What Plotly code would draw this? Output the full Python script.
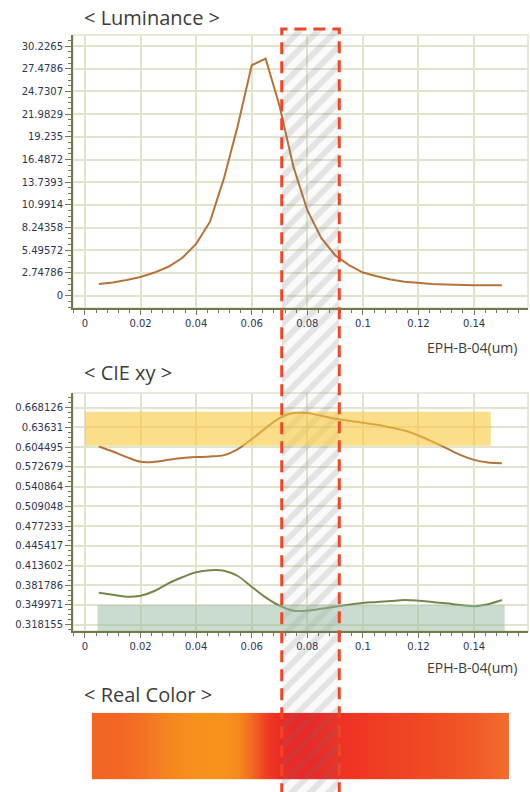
import plotly.graph_objects as go

# ---------------- data ----------------
thickness = [0.005, 0.010, 0.015, 0.020, 0.025, 0.030, 0.035, 0.040, 0.045, 0.050,
             0.055, 0.060, 0.065, 0.070, 0.075, 0.080, 0.085, 0.090, 0.095, 0.100,
             0.105, 0.110, 0.115, 0.120, 0.125, 0.130, 0.135, 0.140, 0.145, 0.150]

luminance = [1.42, 1.60, 1.90, 2.27, 2.80, 3.50, 4.56, 6.27, 8.96, 14.2,
             20.6, 27.9, 28.7, 23.0, 15.6, 10.35, 7.0, 4.9, 3.7, 2.8,
             2.35, 1.95, 1.70, 1.52, 1.42, 1.36, 1.27, 1.25, 1.25, 1.25]

cie_x = [0.6055, 0.5974, 0.5884, 0.5808, 0.5808, 0.5840, 0.5868, 0.5884, 0.5893, 0.5916,
         0.6013, 0.6174, 0.6352, 0.6513, 0.6594, 0.6594, 0.6550, 0.6502, 0.6470, 0.6437,
         0.6405, 0.6360, 0.6313, 0.6232, 0.6135, 0.6029, 0.5920, 0.5840, 0.5797, 0.5787]

cie_y = [0.3698, 0.3665, 0.3633, 0.3649, 0.3725, 0.3849, 0.3946, 0.4027, 0.4059, 0.4052,
         0.3967, 0.3794, 0.3623, 0.3488, 0.3407, 0.3407, 0.3439, 0.3472, 0.3504, 0.3531,
         0.3547, 0.3563, 0.3579, 0.3568, 0.3547, 0.3526, 0.3499, 0.3478, 0.3511, 0.3579]

real_colors = ["#f26522", "#f26522", "#f26a24", "#f37024", "#f47c22", "#f5851f", "#f68c1e",
               "#f7901d", "#f7921d", "#f7941d", "#f68a1f", "#f26a22", "#ef3f23", "#ee2a24",
               "#ee2624", "#ee2624", "#ee2a24", "#ef2f24", "#ef3424", "#ef3824", "#ef3d23",
               "#ef4123", "#f04423", "#f04723", "#f04c23", "#f04f24", "#f15426", "#f15a28",
               "#f1602a", "#f26a2c"]

x_tickvals = [0, 0.02, 0.04, 0.06, 0.08, 0.1, 0.12, 0.14]
x_ticktext = ["0", "0.02", "0.04", "0.06", "0.08", "0.1", "0.12", "0.14"]

lum_tickvals = [0, 2.74786, 5.49572, 8.24358, 10.9914, 13.7393, 16.4872, 19.235,
                21.9829, 24.7307, 27.4786, 30.2265]
lum_ticktext = ["0", "2.74786", "5.49572", "8.24358", "10.9914", "13.7393", "16.4872",
                "19.235", "21.9829", "24.7307", "27.4786", "30.2265"]

cie_tickvals = [0.318155, 0.349971, 0.381786, 0.413602, 0.445417, 0.477233, 0.509048,
                0.540864, 0.572679, 0.604495, 0.63631, 0.668126]
cie_ticktext = ["0.318155", "0.349971", "0.381786", "0.413602", "0.445417", "0.477233",
                "0.509048", "0.540864", "0.572679", "0.604495", "0.63631", "0.668126"]

# spec bands in CIE chart
x_spec_band = [0.0, 0.146, 0.6066, 0.6617]     # x0, x1, y0, y1
y_spec_band = [0.0045, 0.151, 0.300, 0.350]

# selected thickness window
sel_start, sel_end = 0.0708, 0.0915

# ---------------- styling ----------------
W, H = 530, 792
AX_COLOR = "#6e7b4c"
GRID_COLOR = "#e1e4cd"
TICK_FONT = dict(family="DejaVu Sans", size=10, color="#2e3550")
TITLE_FONT = dict(family="Open Sans", size=20, color="#3d3d3d")
XTITLE_FONT = dict(family="Open Sans", size=14, color="#3d3d3d")

XDOM = [73 / W, 528 / W]
XRANGE = [-0.0043, 0.1594]


def py(p):
    return 1 - p / H


fig = go.Figure()

fig.add_trace(go.Scatter(x=thickness, y=luminance, mode="lines",
                         line=dict(color="#b5733a", width=2),
                         xaxis="x", yaxis="y", showlegend=False, hoverinfo="skip"))
fig.add_trace(go.Scatter(x=thickness, y=cie_x, mode="lines", line_shape="spline",
                         line=dict(color="#b5733a", width=2),
                         xaxis="x2", yaxis="y2", showlegend=False, hoverinfo="skip"))
fig.add_trace(go.Scatter(x=thickness, y=cie_y, mode="lines", line_shape="spline",
                         line=dict(color="#76864a", width=2),
                         xaxis="x2", yaxis="y2", showlegend=False, hoverinfo="skip"))

n = len(real_colors)
colorscale = [[i / (n - 1), c] for i, c in enumerate(real_colors)]
fig.add_trace(go.Heatmap(x=thickness, y=[0, 1], z=[list(range(n)), list(range(n))],
                         colorscale=colorscale, zsmooth="best", showscale=False,
                         xaxis="x3", yaxis="y3", hoverinfo="skip"))

# hatched selection band across the whole figure
fig.add_trace(go.Bar(x=[(sel_start + sel_end) / 2], y=[py(29)], base=0,
                     width=[sel_end - sel_start],
                     marker=dict(color="rgba(110,110,110,0.17)", line=dict(width=0),
                                 pattern=dict(shape="/", size=13, solidity=0.45,
                                              fgcolor="rgba(110,110,110,0.17)",
                                              bgcolor="rgba(120,120,120,0.04)",
                                              fillmode="replace")),
                     xaxis="x4", yaxis="y4", showlegend=False, hoverinfo="skip"))


def xaxis_common():
    return dict(domain=XDOM, range=XRANGE, tickmode="array", tickvals=x_tickvals,
                ticktext=x_ticktext, ticks="outside", ticklen=5, tickwidth=1,
                tickcolor=AX_COLOR, showline=True, linecolor=AX_COLOR, linewidth=2,
                showgrid=True, gridcolor=GRID_COLOR, gridwidth=1.5, zeroline=False,
                tickfont=TICK_FONT,
                minor=dict(tick0=0, dtick=0.004, ticks="outside", ticklen=3,
                           tickcolor=AX_COLOR, showgrid=False))


fig.update_layout(
    width=W, height=H, margin=dict(l=0, r=0, t=0, b=0),
    paper_bgcolor="white", plot_bgcolor="rgba(0,0,0,0)", showlegend=False, bargap=0,
    xaxis=dict(**xaxis_common(), anchor="y"),
    yaxis=dict(domain=[py(308), py(35)], range=[-1.49, 31.56], tickmode="array",
               tickvals=lum_tickvals, ticktext=lum_ticktext, ticks="outside", ticklen=6,
               tickcolor=AX_COLOR, showline=True, linecolor=AX_COLOR, linewidth=2,
               showgrid=True, gridcolor=GRID_COLOR, gridwidth=1.5, zeroline=False,
               tickfont=TICK_FONT, anchor="x",
               minor=dict(tick0=0, dtick=2.74786 / 4, ticks="outside", ticklen=3,
                          tickcolor=AX_COLOR, showgrid=False)),
    xaxis2=dict(**xaxis_common(), anchor="y2"),
    yaxis2=dict(domain=[py(631), py(393)], range=[0.3080, 0.6918], tickmode="array",
                tickvals=cie_tickvals, ticktext=cie_ticktext, ticks="outside", ticklen=6,
                tickcolor=AX_COLOR, showline=True, linecolor=AX_COLOR, linewidth=2,
                showgrid=True, gridcolor=GRID_COLOR, gridwidth=1.5, zeroline=False,
                tickfont=TICK_FONT, anchor="x2",
                minor=dict(tick0=0, dtick=0.0318155 / 4, ticks="outside", ticklen=3,
                           tickcolor=AX_COLOR, showgrid=False)),
    xaxis3=dict(domain=XDOM, range=XRANGE, visible=False, anchor="y3"),
    yaxis3=dict(domain=[py(779.3), py(712.7)], range=[0, 1], visible=False, anchor="x3"),
    xaxis4=dict(domain=XDOM, range=XRANGE, visible=False, anchor="y4"),
    yaxis4=dict(domain=[0, 1], range=[0, 1], visible=False, anchor="x4"),
)

shapes = []
# light frames around the two charts
for xr, yr in (("x domain", "y domain"), ("x2 domain", "y2 domain")):
    shapes.append(dict(type="rect", xref=xr, yref=yr, x0=0, x1=1, y0=0, y1=1,
                       line=dict(color=GRID_COLOR, width=1.5), layer="below"))
# spec bands
shapes.append(dict(type="rect", xref="x2", yref="y2", x0=x_spec_band[0], x1=x_spec_band[1],
                   y0=x_spec_band[2], y1=x_spec_band[3], fillcolor="rgba(248,200,60,0.6)",
                   line=dict(width=0), layer="above"))
shapes.append(dict(type="rect", xref="x2", yref="y2", x0=y_spec_band[0], x1=y_spec_band[1],
                   y0=y_spec_band[2], y1=y_spec_band[3], fillcolor="rgba(150,185,160,0.5)",
                   line=dict(width=0), layer="above"))
# dashed selection border
shapes.append(dict(type="rect", xref="x4", yref="y4", x0=sel_start, x1=sel_end,
                   y0=-0.05, y1=py(29), line=dict(color="#ef4626", width=3, dash="12px,7px"),
                   fillcolor="rgba(0,0,0,0)", layer="above"))
fig.update_layout(shapes=shapes)

annotations = [
    dict(text="< Luminance >", x=82 / W, y=py(18), xanchor="left", yanchor="middle",
         font=TITLE_FONT),
    dict(text="< CIE xy >", x=82 / W, y=py(372), xanchor="left", yanchor="middle",
         font=TITLE_FONT),
    dict(text="< Real Color >", x=82 / W, y=py(694), xanchor="left", yanchor="middle",
         font=TITLE_FONT),
    dict(text="EPH-B-04(um)", x=519 / W, y=py(347), xanchor="right", yanchor="middle",
         font=XTITLE_FONT),
    dict(text="EPH-B-04(um)", x=519 / W, y=py(667), xanchor="right", yanchor="middle",
         font=XTITLE_FONT),
]
for a in annotations:
    a.update(xref="paper", yref="paper", showarrow=False)
fig.update_layout(annotations=annotations)

fig.write_html("out.html")
